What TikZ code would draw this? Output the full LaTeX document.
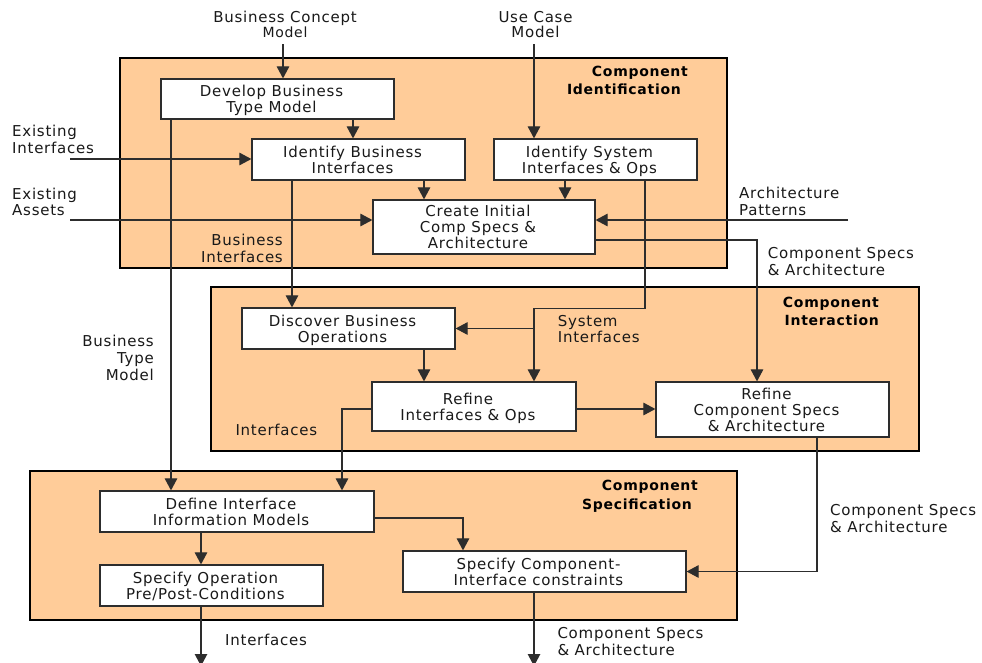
\documentclass[tikz,border=0pt]{standalone}
\usepackage{fontspec}
\setmainfont{DejaVu Sans}[LetterSpace=5]
\usetikzlibrary{arrows.meta}
\definecolor{peach}{RGB}{255,204,153}
\definecolor{ink}{RGB}{25,25,25}
\definecolor{wire}{RGB}{45,45,45}
% trailing kern so box captions sit a little left of the box centre
\newcommand\padl[1]{#1\kern12pt}

\begin{document}
\begin{tikzpicture}[x=1pt,y=-1pt,
  region/.style={draw=black, line width=1.2pt, fill=peach, inner sep=0pt},
  proc/.style={draw=wire, line width=1.2pt, fill=white, inner sep=0pt,
    align=center, text=ink, text depth=0pt, font=\fontsize{15}{16}\selectfont},
  flow/.style={draw=wire, line width=1.1pt, -{Triangle[length=12pt,width=12.5pt]}},
  lbl/.style={inner sep=0pt, text=ink, font=\fontsize{15}{16.7}\selectfont},
  title/.style={inner sep=0pt, align=right, text=black,
    font=\fontsize{14}{18.5}\selectfont\bfseries},
]
\fill[white] (0,0) rectangle (982,662);
\useasboundingbox (0,0) rectangle (982,662);

% phase regions
\node[region, minimum width=607, minimum height=210] (ci) at (423.5,163) {};
\node[region, minimum width=708, minimum height=164] (cint) at (565,369) {};
\node[region, minimum width=707, minimum height=149] (cs) at (383.5,545.5) {};

\node[title, anchor=east] (tci) at (688,80.5) {Component\\Identification\kern7pt};
\node[title, anchor=east] (tcint) at (879,311.6) {Component\\Interaction};
\node[title, anchor=east] (tcs) at (698,496.5) {Component\\Specification\kern6pt};

% activities
\node[proc, minimum width=233, minimum height=40] (dbtm) at (277.5,99)
  {\padl{Develop Business}\\\padl{Type Model}};
\node[proc, minimum width=213, minimum height=41] (ibi) at (358.5,159.5)
  {\padl{Identify Business}\\\padl{Interfaces}};
\node[proc, minimum width=203, minimum height=41] (isi) at (595.5,159.5)
  {\padl{Identify System}\\\padl{Interfaces \& Ops}};
\node[proc, minimum width=222, minimum height=54] (cis) at (484,227)
  {\padl{Create Initial}\\\padl{Comp Specs \&}\\\padl{Architecture}};
\node[proc, minimum width=213, minimum height=41] (dbo) at (348.5,328.5)
  {\padl{Discover Business}\\\padl{Operations}};
\node[proc, minimum width=204, minimum height=49] (rio) at (474,406.5)
  {\padl{Refine}\\\padl{Interfaces \& Ops}};
\node[proc, minimum width=233, minimum height=55] (rcs) at (772.5,409.5)
  {\padl{Refine}\\\padl{Component Specs}\\\padl{\& Architecture}};
\node[proc, minimum width=274, minimum height=41] (dii) at (237,511.5)
  {\padl{Define Interface}\\\padl{Information Models}};
\node[proc, minimum width=223, minimum height=41] (sop) at (211.5,585.5)
  {\padl{Specify Operation}\\\padl{Pre/Post-Conditions}};
\node[proc, minimum width=283, minimum height=41] (sci) at (544.5,571.5)
  {\padl{Specify Component-}\\\padl{Interface constraints}};

% free ends of inputs and outputs
\coordinate (inBCM) at (283,44);
\coordinate (inUC) at (534,44);
\coordinate (inEI) at (70,159);
\coordinate (inEA) at (70,220);
\coordinate (inAP) at (848,220);
\coordinate (outI) at (201,666);
\coordinate (outC) at (534,666);

% flows
\draw[flow] (inBCM) -- (inBCM |- dbtm.north);
\draw[flow] (inUC) -- (inUC |- isi.north);
\draw[flow] (inEI) -- (inEI -| ibi.west);
\draw[flow] (inEA) -- (inEA -| cis.west);
\draw[flow] (inAP) -- (inAP -| cis.east);
\draw[flow] ([xshift=75.5pt]dbtm.south) -- ([xshift=-5.5pt]ibi.north);
\draw[flow] ([xshift=65.5pt]ibi.south) -- ([xshift=-60pt]cis.north);
\draw[flow] ([xshift=-30.5pt]isi.south) -- ([xshift=81pt]cis.north);
\draw[flow] ([xshift=-106.5pt]dbtm.south) -- ([xshift=-66pt]dii.north);
\draw[flow] ([xshift=-66.5pt]ibi.south) -- ([xshift=-56.5pt]dbo.north);
\coordinate (sysx) at ([xshift=60pt]rio.north);
\coordinate (sysj) at (sysx |- dbo.east);
\draw[flow] ([xshift=49.5pt]isi.south) -- ++(0,128) -| (sysx);
\draw[flow] (sysj) -- (dbo.east);
\draw[flow] ([yshift=-13pt]cis.east) -| ([xshift=-15.5pt]rcs.north);
\draw[flow] ([xshift=75.5pt]dbo.south) -- ([xshift=-50pt]rio.north);
\draw[flow] ([yshift=-2.5pt]rio.east) -- ([yshift=0.5pt]rcs.west);
\draw[flow] ([yshift=-2.5pt]rio.west) -| ([xshift=105pt]dii.north);
\draw[flow] ([xshift=44.5pt]rcs.south) |- (sci.east);
\draw[flow] ([yshift=-6.5pt]dii.east) -| ([xshift=-81.5pt]sci.north);
\draw[flow] ([xshift=-36pt]dii.south) -- ([xshift=-10.5pt]sop.north);
\draw[flow] ([xshift=-10.5pt]sop.south) -- (outI);
\draw[flow] ([xshift=-10.5pt]sci.south) -- (outC);

% flow labels
\node[lbl, align=center, font=\fontsize{15}{15}\selectfont] (lbcm) at (285,24)
  {Business Concept\\{\fontsize{14}{15}\selectfont Model}};
\node[lbl, align=center, font=\fontsize{15}{15.5}\selectfont] (luc) at (535.5,24.3)
  {Use Case\\Model};
\node[lbl, align=left, anchor=west] (lei) at (12,139.2) {Existing\\Interfaces};
\node[lbl, align=left, anchor=west] (lea) at (12,201.8) {Existing\\Assets};
\node[lbl, align=left, anchor=west] (lap) at (739,201.6) {Architecture\\Patterns};
\node[lbl, align=right, anchor=east] (lbi) at (283,248.7) {Business\\Interfaces};
\node[lbl, align=left, anchor=west] (lcs1) at (767.7,261.5) {Component Specs\\\& Architecture};
\node[lbl, align=left, anchor=west] (lsi) at (557.7,329) {System\\Interfaces};
\node[lbl, align=right, anchor=east] (lbtm) at (154,357.9) {Business\\Type\\Model};
\node[lbl, anchor=west] (li1) at (235.3,429.8) {Interfaces};
\node[lbl, align=left, anchor=west] (lcs2) at (830,518.8) {Component Specs\\\& Architecture};
\node[lbl, anchor=west] (li2) at (225,639.8) {Interfaces};
\node[lbl, align=left, anchor=west] (lcs3) at (557.3,641.4) {Component Specs\\\& Architecture};
\end{tikzpicture}
\end{document}
